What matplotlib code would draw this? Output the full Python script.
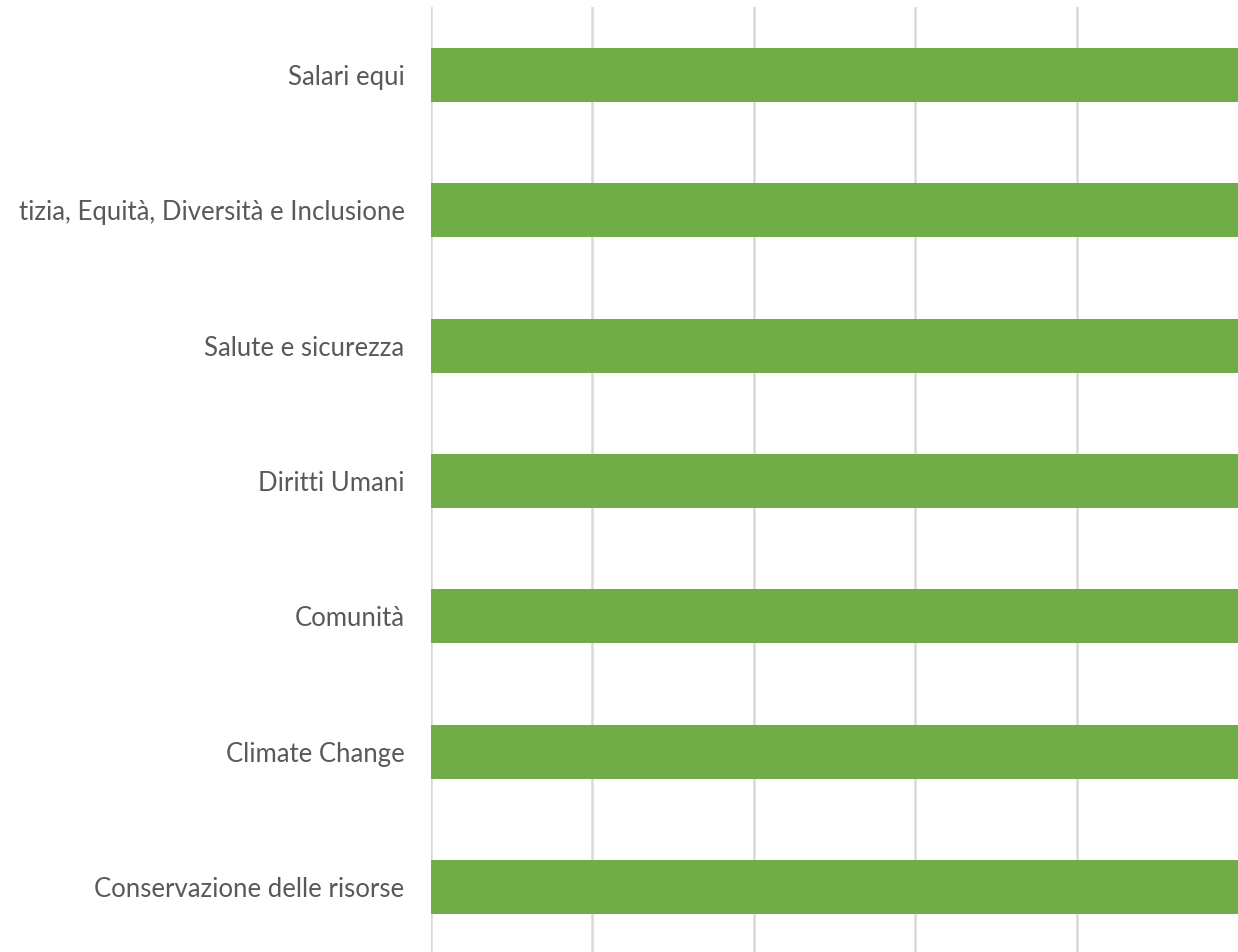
import matplotlib; matplotlib.use("Agg")
import matplotlib.pyplot as plt

GREEN = "#70AD47"; GRID = "#D9D9D9"; LABEL = "#595959"

# categories top -> bottom, as far as they are visible in the picture
categories = [
    "Salari equi",
    "tizia, Equità, Diversità e Inclusione",
    "Salute e sicurezza",
    "Diritti Umani",
    "Comunità",
    "Climate Change",
    "Conservazione delle risorse",
]
# bars run past the visible right edge
values = [6, 6, 6, 6, 6, 6, 6]
xticks = [0, 1, 2, 3, 4]

fig = plt.figure(figsize=(12.38, 9.52), dpi=100)
ax = fig.add_axes([431/1238, -0.003, 888/1238, 0.9955])

y = list(range(len(categories)))[::-1]
ax.barh(y, values, height=0.4, color=GREEN, zorder=3)

ax.set_xlim(0, 5.5)
ax.set_ylim(-0.5, len(categories) - 0.5)
ax.set_xticks(xticks)
ax.set_xticklabels([])
ax.set_yticks(y)
ax.set_yticklabels(categories, fontsize=18.5, color=LABEL, family=["Lato", "DejaVu Sans"])
ax.tick_params(axis="y", length=0, pad=19)
ax.tick_params(axis="x", length=0)
ax.grid(axis="x", color=GRID, lw=1.8, zorder=0)
for s in ax.spines.values():
    s.set_visible(False)

fig.savefig("out.png", dpi=100)
